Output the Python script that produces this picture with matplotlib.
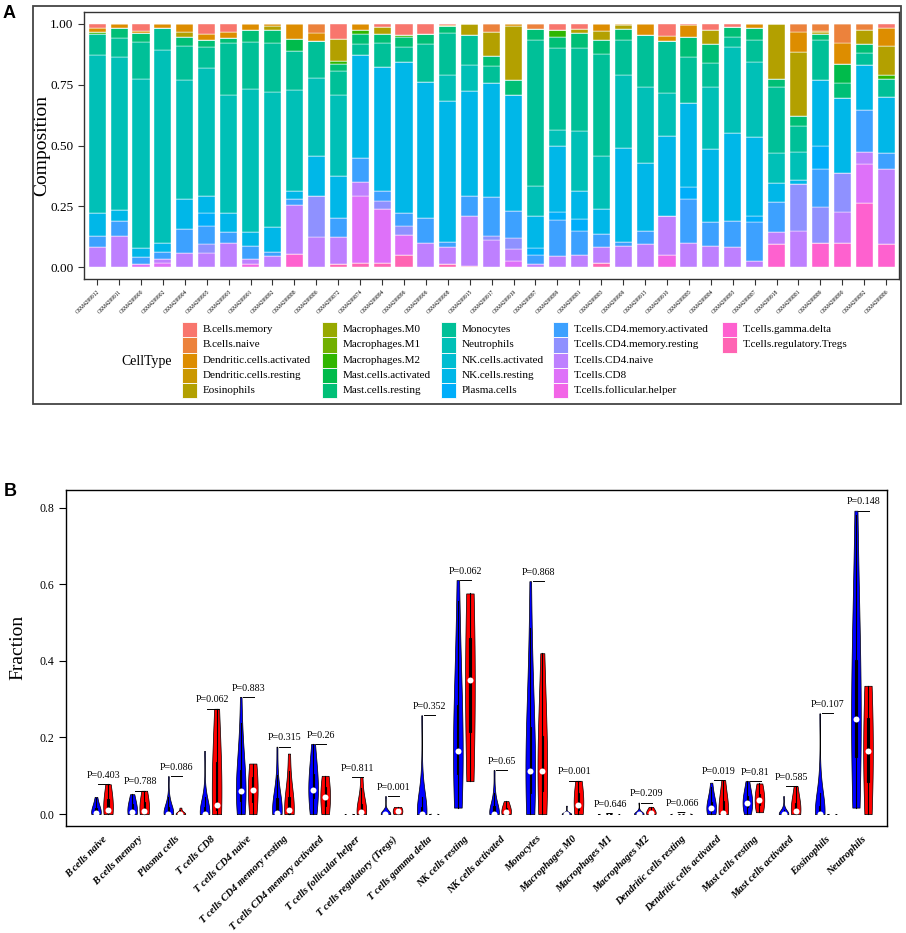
import numpy as np
import matplotlib
matplotlib.use("Agg")
import matplotlib.pyplot as plt
from matplotlib.patches import Rectangle

plt.rcParams['font.family'] = ['Liberation Serif', 'DejaVu Serif']

# ---------------- panel A data (CIBERSORT composition, 37 samples) ----------------
samples = ['GSM4299912', 'GSM4299911', 'GSM4299900', 'GSM4299902', 'GSM4299904',
           'GSM4299905', 'GSM4299903', 'GSM4299901', 'GSM4299892', 'GSM4299888',
           'GSM4299886', 'GSM4299872', 'GSM4299874', 'GSM4299894', 'GSM4299896',
           'GSM4299906', 'GSM4299908', 'GSM4299915', 'GSM4299917', 'GSM4299919',
           'GSM4299897', 'GSM4299899', 'GSM4299881', 'GSM4299883', 'GSM4299909',
           'GSM4299913', 'GSM4299910', 'GSM4299885', 'GSM4299884', 'GSM4299893',
           'GSM4299887', 'GSM4299918', 'GSM4299881', 'GSM4299889', 'GSM4299890',
           'GSM4299892', 'GSM4299886']

cell_types = ['B.cells.memory', 'B.cells.naive', 'Dendritic.cells.activated',
              'Dendritic.cells.resting', 'Eosinophils', 'Macrophages.M0',
              'Macrophages.M1', 'Macrophages.M2', 'Mast.cells.activated',
              'Mast.cells.resting', 'Monocytes', 'Neutrophils', 'NK.cells.activated',
              'NK.cells.resting', 'Plasma.cells', 'T.cells.CD4.memory.activated',
              'T.cells.CD4.memory.resting', 'T.cells.CD4.naive', 'T.cells.CD8',
              'T.cells.follicular.helper', 'T.cells.gamma.delta',
              'T.cells.regulatory.Tregs']

b_memory = [.016, 0, .029, 0, 0, .04, .033, 0, 0, 0, 0, .064, 0, .012, .046, .04, .004, 0, 0,
            0, 0, .026, .02, 0, 0, 0, .051, .005, .026, .012, 0, 0, 0, 0, 0, 0, .019]
b_naive = [0, 0, 0, 0, 0, 0, 0, 0, 0, 0, .037, 0, 0, 0, 0, 0, 0, 0, .033,
           0, .023, 0, 0, 0, 0, 0, 0, 0, 0, 0, 0, 0, .033, .029, .078, .026, 0]
dc_activated = [.018, .015, .007, .018, .034, .027, .025, .026, .01, .064, .033, 0, .026, 0, 0,
                0, .004, 0, 0, .01, 0, 0, 0, .029, .005, .044, .019, .048, 0, 0, .015, 0,
                .082, .006, .089, 0, .072]
dc_resting = [0] * 37
eosinophils = [0, 0, 0, 0, .019, 0, 0, 0, .014, 0, 0, .089, 0, .031, 0, 0, 0, .046, .1,
               .221, 0, 0, .019, .038, .018, 0, 0, 0, .057, 0, 0, .228, .264, .008, 0, .057, .119]
macro_m0 = [0] * 37
macro_m1 = [0] * 37
macro_m2 = [.007, 0, 0, 0, 0, 0, 0, 0, 0, 0, 0, .012, .014, 0, .007, 0, 0, 0, 0,
            0, 0, .027, 0, 0, 0, 0, 0, 0, 0, 0, 0, 0, 0, 0, 0, 0, .018]
mast_activated = [0, 0, 0, 0, 0, 0, 0, 0, 0, .046, 0, 0, 0, 0, 0, 0, 0, 0, 0,
                  0, 0, 0, 0, 0, 0, 0, 0, 0, 0, 0, 0, 0, 0, 0, .078, 0, 0]
mast_resting = [0, .045, .038, 0, .038, .03, .02, .048, .055, 0, 0, .03, .041, .037, .041, .041,
                .031, 0, .041, .061, .044, .048, .061, .057, .044, 0, 0, .082, .079, .041, .052,
                .033, .041, .022, .061, .038, 0]
monocytes = [.087, .075, .153, .09, .14, .086, .214, .195, .2, .161, .155, .096, .048, .096, .061,
             .157, .171, .123, .068, 0, .601, .335, .342, .418, .143, .217, .213, .191, .096,
             .041, .089, .27, .105, .164, 0, .048, .071]
neutrophils = [.649, .631, .694, .792, .488, .523, .485, .585, .557, .418, .318, .335, 0, 0, 0, 0,
               .109, .109, 0, 0, .12, .066, .246, .219, .3, .309, .178, 0, .257, .355, .311, .123,
               .116, 0, 0, 0, 0]
nk_activated = [0] * 37
nk_resting = [.093, .044, .038, .038, .127, .071, .079, .061, .101, .03, .167, .171, .423, .513,
              .622, .562, .579, .428, .47, .478, .133, .273, .116, .102, .387, .28, .328, .346,
              .301, .363, .321, .079, .016, .273, .307, .184, .232]
plasma = [0, 0, 0, 0, 0, .055, 0, 0, 0, 0, 0, 0, 0, 0, 0, 0, 0, 0, 0,
          0, .031, .03, .048, 0, 0, 0, 0, .046, 0, 0, .027, 0, 0, .096, 0, 0, 0]
cd4_mem_act = [.048, .06, .03, .03, .096, .072, .044, .052, .018, .027, 0, .078, .1, .041, .055,
               .1, .019, .085, .158, .112, .034, .15, .1, .055, .016, .055, 0, .182, .098, .105,
               .16, .123, 0, .153, 0, .175, .066]
cd4_mem_rest = [0, 0, 0, 0, 0, .037, 0, 0, 0, 0, .167, 0, 0, .031, .034, 0, 0, 0, .019,
                .045, 0, 0, 0, 0, 0, 0, 0, 0, 0, 0, 0, 0, .195, .148, .161, 0, 0]
cd4_naive = [.082, .13, 0, .014, .059, .059, .1, .022, .045, .202, .124, .111, .057, 0, 0, .1,
             .072, .205, .111, .048, .014, .045, .048, .064, .087, .095, .163, .1, .086, .083,
             .025, .048, .148, 0, .126, .048, .307]
cd8 = [0, 0, .011, .018, 0, 0, 0, 0, 0, 0, 0, 0, .273, .221, .086, 0, 0, 0, 0,
       .025, 0, 0, 0, 0, 0, 0, 0, 0, 0, 0, 0, 0, 0, 0, 0, .161, 0]
tfh = [0, 0, 0, 0, 0, 0, 0, .011, 0, 0, 0, 0, 0, 0, 0, 0, 0, 0, 0,
       0, 0, 0, 0, 0, 0, 0, .048, 0, 0, 0, 0, 0, 0, 0, 0, 0, 0]
gamma_delta = [0, 0, 0, 0, 0, 0, 0, 0, 0, .052, 0, 0, 0, 0, 0, 0, 0, 0, 0,
               0, 0, 0, 0, 0, 0, 0, 0, 0, 0, 0, 0, .096, 0, .101, .1, .263, .096]
tregs = [0, 0, 0, 0, 0, 0, 0, 0, 0, 0, 0, .014, .018, .018, .048, 0, .011, .004, 0,
         0, 0, 0, 0, .018, 0, 0, 0, 0, 0, 0, 0, 0, 0, 0, 0, 0, 0]

composition = [b_memory, b_naive, dc_activated, dc_resting, eosinophils, macro_m0, macro_m1,
               macro_m2, mast_activated, mast_resting, monocytes, neutrophils, nk_activated,
               nk_resting, plasma, cd4_mem_act, cd4_mem_rest, cd4_naive, cd8, tfh,
               gamma_delta, tregs]

# ---------------- panel B data (fractions per group: blue, red) ----------------
fr_b_naive = ([0, 0, 0, 0, 0, 0, .002, .004, .008, .012, .018, .025, .035, .045],
              [0, 0, .004, .01, .03, .05, .078])
fr_b_memory = ([0, 0, 0, 0, 0, .002, .004, .008, .012, .02, .028, .035, .045, .052],
               [0, 0, .003, .008, .025, .04, .061])
fr_plasma = ([0, 0, 0, 0, 0, 0, 0, .003, .006, .012, .02, .03, .045, .099],
             [0, 0, 0, 0, .002, .006, .017])
fr_cd8 = ([0, 0, 0, 0, 0, 0, 0, 0, .004, .01, .02, .035, .06, .165],
          [0, .006, .015, .024, .09, .18, .275])
fr_cd4_naive = ([0, .005, .015, .03, .045, .055, .06, .062, .08, .1, .12, .15, .2, .306],
                [0, .02, .045, .063, .085, .11, .132])
fr_cd4_mem_rest = ([0, 0, 0, 0, 0, 0, 0, .005, .015, .03, .045, .06, .08, .176],
                   [0, 0, 0, .01, .03, .06, .158])
fr_cd4_mem_act = ([0, .01, .025, .04, .05, .058, .062, .066, .075, .09, .11, .13, .155, .183],
                  [0, .015, .03, .044, .06, .08, .1])
fr_tfh = ([0, 0, 0, 0, 0, 0, 0, 0, 0, 0, 0, 0, .002, .004],
          [0, 0, 0, .005, .015, .04, .097])
fr_tregs = ([0, 0, 0, 0, 0, 0, 0, 0, 0, 0, .002, .005, .01, .047],
            [0, 0, .004, .008, .012, .015, .019])
fr_gamma_delta = ([0, 0, 0, 0, 0, 0, 0, 0, .005, .01, .02, .05, .1, .258],
                  [0, 0, 0, 0, 0, .001, .003])
fr_nk_resting = ([.017, .04, .07, .1, .12, .14, .16, .17, .2, .24, .3, .38, .48, .611],
                 [.086, .17, .26, .35, .42, .5, .576])
fr_nk_activated = ([0, 0, 0, 0, 0, 0, 0, .003, .008, .015, .025, .04, .06, .115],
                   [0, 0, 0, .005, .01, .02, .034])
fr_monocytes = ([0, .01, .03, .05, .07, .09, .105, .12, .15, .19, .24, .3, .4, .608],
                [0, .04, .08, .113, .16, .25, .42])
fr_m0 = ([0, 0, 0, 0, 0, 0, 0, 0, 0, 0, 0, .002, .006, .022],
         [0, .005, .015, .025, .045, .065, .087])
fr_m1 = ([0, 0, 0, 0, 0, 0, 0, 0, 0, 0, 0, 0, .001, .003],
         [0, 0, 0, 0, 0, .001, .002])
fr_m2 = ([0, 0, 0, 0, 0, 0, 0, 0, 0, 0, .002, .005, .01, .03],
         [0, 0, 0, .003, .006, .01, .019])
fr_dc_resting = ([0, 0, 0, 0, 0, 0, 0, 0, 0, 0, 0, 0, .002, .005],
                 [0, 0, 0, 0, 0, .002, .004])
fr_dc_activated = ([0, 0, .003, .006, .01, .012, .014, .016, .02, .026, .035, .045, .06, .082],
                   [0, 0, 0, .004, .02, .05, .089])
fr_mast_resting = ([0, .005, .012, .018, .022, .025, .027, .03, .035, .042, .05, .06, .072, .086],
                   [.005, .018, .03, .037, .045, .06, .08])
fr_mast_activated = ([0, 0, 0, 0, 0, 0, 0, 0, 0, .002, .005, .01, .02, .047],
                     [0, 0, .002, .008, .02, .04, .073])
fr_eosinophils = ([0, 0, 0, 0, 0, 0, 0, 0, .005, .012, .025, .05, .1, .263],
                  [0, 0, 0, 0, 0, .001, .002])
fr_neutrophils = ([.017, .06, .1, .14, .18, .22, .24, .255, .3, .35, .42, .5, .62, .792],
                  [0, .06, .11, .165, .22, .28, .335])

b_names = ['B cells naive', 'B cells memory', 'Plasma cells', 'T cells CD8', 'T cells CD4 naive',
           'T cells CD4 memory resting', 'T cells CD4 memory activated',
           'T cells follicular helper', 'T cells regulatory (Tregs)', 'T cells gamma delta',
           'NK cells resting', 'NK cells activated', 'Monocytes', 'Macrophages M0',
           'Macrophages M1', 'Macrophages M2', 'Dendritic cells resting',
           'Dendritic cells activated', 'Mast cells resting', 'Mast cells activated',
           'Eosinophils', 'Neutrophils']
b_data = [fr_b_naive, fr_b_memory, fr_plasma, fr_cd8, fr_cd4_naive, fr_cd4_mem_rest,
          fr_cd4_mem_act, fr_tfh, fr_tregs, fr_gamma_delta, fr_nk_resting, fr_nk_activated,
          fr_monocytes, fr_m0, fr_m1, fr_m2, fr_dc_resting, fr_dc_activated, fr_mast_resting,
          fr_mast_activated, fr_eosinophils, fr_neutrophils]
p_values = ['0.403', '0.788', '0.086', '0.062', '0.883', '0.315', '0.26', '0.811', '0.001',
            '0.352', '0.062', '0.65', '0.868', '0.001', '0.646', '0.209', '0.066', '0.019',
            '0.81', '0.585', '0.107', '0.148']


# ggplot-like hue palette (hcl with c=100, l=65)
def hcl_color(h, c=100.0, l=65.0):
    hr = np.deg2rad(h)
    u, v = c * np.cos(hr), c * np.sin(hr)
    xn, yn, zn = 95.047, 100.0, 108.883
    un = 4 * xn / (xn + 15 * yn + 3 * zn)
    vn = 9 * yn / (xn + 15 * yn + 3 * zn)
    Y = yn * ((l + 16) / 116) ** 3
    up = u / (13 * l) + un
    vp = v / (13 * l) + vn
    X = Y * 9 * up / (4 * vp)
    Z = Y * (12 - 3 * up - 20 * vp) / (4 * vp)
    X, Y, Z = X / 100, Y / 100, Z / 100
    rgb = np.array([3.2404542 * X - 1.5371385 * Y - 0.4985314 * Z,
                    -0.9692660 * X + 1.8760108 * Y + 0.0415560 * Z,
                    0.0556434 * X - 0.2040259 * Y + 1.0572252 * Z])
    rgb = np.where(rgb <= 0.0031308, 12.92 * rgb, 1.055 * np.abs(rgb) ** (1 / 2.4) - 0.055)
    return tuple(np.clip(rgb, 0, 1))


n_types = len(cell_types)
colors = [hcl_color(15 + 360 * i / (n_types + 1)) for i in range(n_types)]

fig = plt.figure(figsize=(9.06, 9.33), dpi=100)
W, H = 906.0, 933.0

# ---------------- Panel A ----------------
axA = fig.add_axes([84 / W, 1 - 279.3 / H, (899.3 - 84) / W, (279.3 - 11.7) / H])
x = np.arange(len(samples))
bottom = np.zeros(len(samples))
for name, vals, col in reversed(list(zip(cell_types, composition, colors))):
    vals = np.array(vals)
    axA.bar(x, vals, width=0.78, bottom=bottom, color=col, edgecolor='white', linewidth=0.3)
    bottom += vals
axA.set_xlim(-0.6, len(samples) - 0.4)
axA.set_ylim(-0.05, 1.05)
axA.set_yticks([0, 0.25, 0.5, 0.75, 1.0])
axA.set_yticklabels(['0.00', '0.25', '0.50', '0.75', '1.00'], fontsize=9.5)
axA.set_xticks(x)
axA.set_xticklabels(samples, rotation=45, ha='right', va='top', rotation_mode='anchor',
                    fontsize=4)
axA.tick_params(axis='both', length=4, width=0.8, color='#333333')
axA.tick_params(axis='x', pad=3)
axA.set_ylabel('Composition', fontsize=14)
axA.yaxis.set_label_coords(-0.0417, 0.5)
for s in axA.spines.values():
    s.set_color('#333333')
    s.set_linewidth(1.0)

# legend, filled column by column (5 rows), keys stacked like ggplot
leg_cols_x = [181.7, 321.7, 440.7, 552.7, 721.7]
key_w, key_h, leg_top = 15.0, 15.1, 322.3
for i, (name, col) in enumerate(zip(cell_types, colors)):
    cx = leg_cols_x[i // 5]
    ry = leg_top + (i % 5) * key_h
    fig.add_artist(Rectangle((cx / W, 1 - (ry + key_h) / H), key_w / W, key_h / H,
                             transform=fig.transFigure, facecolor=col, edgecolor='white',
                             lw=0.6))
    fig.text((cx + 21.3) / W, 1 - (ry + key_h / 2) / H, name, fontsize=8, ha='left',
             va='center')
fig.text(121.7 / W, 1 - 361.7 / H, 'CellType', fontsize=10, ha='left', va='center')

fig.add_artist(Rectangle((33 / W, 1 - 404.3 / H), (901 - 33) / W, (404.3 - 5.7) / H,
                         transform=fig.transFigure, fill=False, lw=1.3, ec='#444444'))
fig.text(3 / W, 1 - 13 / H, 'A', fontsize=13, fontweight='bold', family='Liberation Sans',
         ha='left', va='center')

# ---------------- Panel B ----------------
axB = fig.add_axes([65.7 / W, 1 - 826 / H, (886.7 - 65.7) / W, (826 - 490) / H])


def violin(ax, pos, vals, col):
    v = np.asarray(vals, dtype=float)
    lo, hi = v.min(), v.max()
    q1, med, q3 = np.percentile(v, [25, 50, 75])
    iqr = q3 - q1
    if hi - lo > 1e-9:
        sd = v.std(ddof=1)
        spread = max(min(sd, iqr / 1.34), 0.5 * sd)
        h = 2.3 * spread * len(v) ** -0.2
        yy = np.linspace(lo, hi, 300)
        d = np.exp(-0.5 * ((yy[:, None] - v[None, :]) / h) ** 2).sum(axis=1)
        w = d / d.max() * 0.4
        ax.fill_betweenx(yy, pos - w, pos + w, facecolor=col, edgecolor='black',
                         linewidth=0.5, zorder=2)
    upper = min(q3 + 1.5 * iqr, hi)
    lower = max(q1 - 1.5 * iqr, lo)
    ax.plot([pos, pos], [lower, upper], color='black', lw=0.8, zorder=3)
    ax.add_patch(Rectangle((pos - 0.05, q1), 0.1, q3 - q1, color='black', lw=0.8, zorder=3))
    ax.plot(pos, med, 'o', color='white', ms=4.3, mew=0, zorder=4)


for i, (grp, p) in enumerate(zip(b_data, p_values)):
    pb, pr = 3 * i + 1, 3 * i + 2
    violin(axB, pb, grp[0], '#0000FF')
    violin(axB, pr, grp[1], '#FF0000')
    ymax = max(max(grp[0]), max(grp[1]))
    axB.plot([pb + 0.2, pr + 0.1], [ymax, ymax], color='black', lw=0.7)
    axB.text((pb + pr) / 2 + 0.15, ymax + 0.023, 'P=' + p, fontsize=7.2, ha='center',
             va='center')

axB.set_xlim(-1.51, 66.55)
axB.set_ylim(-0.031, 0.846)
axB.set_yticks([0, 0.2, 0.4, 0.6, 0.8])
axB.set_yticklabels(['0.0', '0.2', '0.4', '0.6', '0.8'], fontsize=8.5)
axB.tick_params(axis='y', length=5, width=0.8)
axB.set_xticks([3 * i + 1.5 for i in range(len(b_names))])
axB.set_xticklabels(b_names, rotation=45, ha='right', va='top', rotation_mode='anchor',
                    fontsize=7.5, fontweight='bold', style='italic')
axB.tick_params(axis='x', length=0, pad=6)
axB.set_ylabel('Fraction', fontsize=14)
axB.yaxis.set_label_coords(-0.0475, 0.53)
for s in axB.spines.values():
    s.set_linewidth(1.0)
fig.text(4 / W, 1 - 492 / H, 'B', fontsize=13, fontweight='bold', family='Liberation Sans',
         ha='left', va='center')

fig.savefig('out.png', dpi=100)
